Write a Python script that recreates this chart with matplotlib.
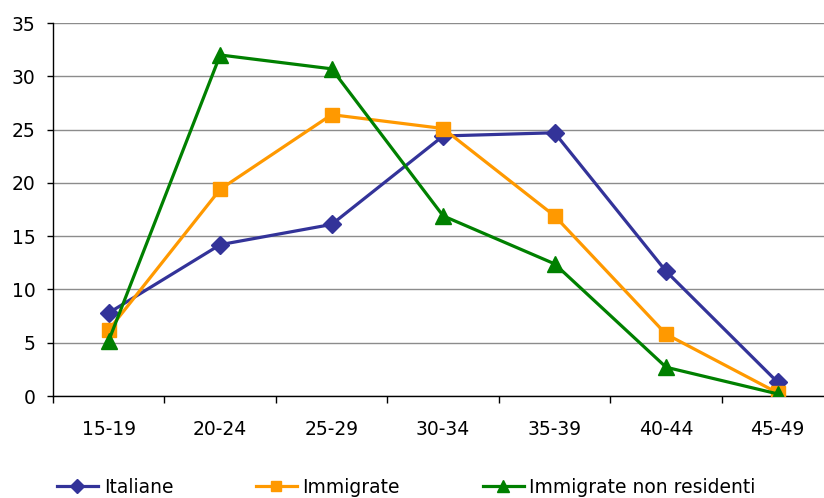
"""
Age distribution of births by mother's group (Italiane / Immigrate / non residenti).
"""

import numpy as np
import matplotlib.pyplot as plt

AGE_CLASSES = ['15-19', '20-24', '25-29', '30-34', '35-39', '40-44', '45-49']

ITALIANE      = [7.8, 14.2, 16.1, 24.4, 24.7, 11.7, 1.3]
IMMIGRATE     = [6.2, 19.4, 26.4, 25.1, 16.9, 5.8, 0.3]
NON_RESIDENTI = [5.2, 32.0, 30.7, 16.9, 12.4, 2.7, 0.2]

FONT_SIZE = 13.5


def plot_ages():
    plt.rcParams['font.family'] = ['DejaVu Sans']

    fig = plt.figure(figsize=(8.24, 4.98), dpi=100)
    ax = fig.add_axes([0.0643, 0.2048, 0.947, 0.749])

    x = np.arange(len(AGE_CLASSES))

    ax.plot(x, ITALIANE, color='#333399', linewidth=2.3, marker='D',
            markersize=9.5, label='Italiane', zorder=3)
    ax.plot(x, IMMIGRATE, color='#FF9900', linewidth=2.3, marker='s',
            markersize=9.5, label='Immigrate', zorder=4)
    ax.plot(x, NON_RESIDENTI, color='#008000', linewidth=2.3, marker='^',
            markersize=11, label='Immigrate non residenti', zorder=5)

    # Axes limits and grid
    ax.set_xlim(-0.5, len(AGE_CLASSES) - 0.5)
    ax.set_ylim(0, 35)
    ax.set_yticks(np.arange(0, 36, 5))
    ax.yaxis.grid(True, color='#8c8c8c', linewidth=1.0)
    ax.set_axisbelow(True)

    # Category ticks between classes, labels centred on classes
    ax.set_xticks(np.arange(-0.5, len(AGE_CLASSES), 1.0))
    ax.set_xticklabels([])
    ax.set_xticks(x, minor=True)
    ax.set_xticklabels(AGE_CLASSES, minor=True, fontsize=FONT_SIZE)
    ax.tick_params(axis='x', which='major', direction='out', length=5,
                   width=1, color='#000000')
    ax.tick_params(axis='x', which='minor', length=0, pad=17)
    ax.tick_params(axis='y', direction='out', length=4.5, width=1,
                   labelsize=FONT_SIZE, pad=8)

    for side in ['top', 'right']:
        ax.spines[side].set_visible(False)
    ax.spines['left'].set_color('#000000')
    ax.spines['bottom'].set_color('#000000')
    ax.spines['left'].set_linewidth(1.0)
    ax.spines['bottom'].set_linewidth(1.0)

    fig.legend(loc='center left', bbox_to_anchor=(0.069, 0.022), ncol=3,
               frameon=False, fontsize=FONT_SIZE, handlelength=2.2,
               handletextpad=0.3, columnspacing=4.4, borderpad=0,
               borderaxespad=0, markerscale=0.75)

    fig.savefig('out.png', dpi=100)


def main():
    plot_ages()


if __name__ == "__main__":
    main()
